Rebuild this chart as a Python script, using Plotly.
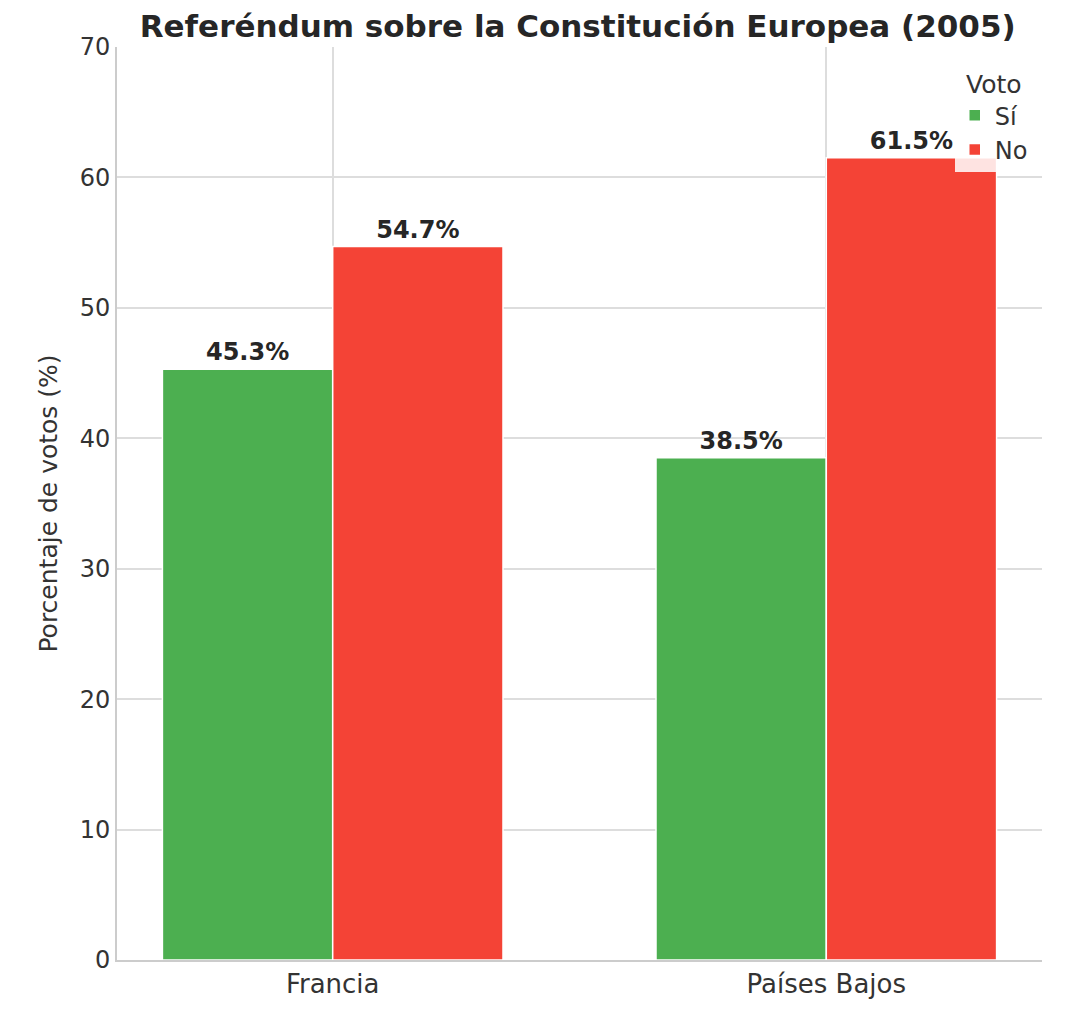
import plotly.graph_objects as go

countries = ["Francia", "Países Bajos"]
si = [45.3, 38.5]
no = [54.7, 61.5]

fig = go.Figure()
for name, vals, col in [("Sí", si, "#4caf50"), ("No", no, "#f44336")]:
    fig.add_trace(go.Bar(x=[0, 1], y=vals, name=name, marker=dict(color=col, line=dict(color="white", width=1.5)),
                         text=[f"<b>{v}%</b>" for v in vals], textposition="outside",
                         textfont=dict(size=24, color="#262626", family="DejaVu Sans"), cliponaxis=False))

fig.update_layout(
    width=1079, height=1031, barmode="group", bargap=0.31, bargroupgap=0,
    plot_bgcolor="white", paper_bgcolor="white",
    font=dict(family="DejaVu Sans", size=24, color="#333"),
    margin=dict(l=109, r=45, t=39, b=79, pad=0),
    title=dict(text="<b>Referéndum sobre la Constitución Europea (2005)</b>", x=0.528, xanchor="center",
               y=0.982, yanchor="middle", font=dict(size=31, color="#262626")),
    xaxis=dict(range=[-0.437, 1.437], tickvals=[0, 1], ticktext=countries, showgrid=True, gridcolor="#dddddd",
               gridwidth=2, showline=True, linecolor="#cccccc", linewidth=2, ticks="", zeroline=False, tickfont=dict(size=26)),
    yaxis=dict(range=[0, 70], dtick=10, showgrid=True, gridcolor="#dddddd", gridwidth=2, showline=True,
               linecolor="#cccccc", linewidth=2, zeroline=False, ticks="", tickfont=dict(size=24),
               title=dict(text="Porcentaje de votos (%)", font=dict(size=25))),
    legend=dict(title=dict(text="Voto", side="top center", font=dict(size=25)), x=0.99, xanchor="right", y=0.985, yanchor="top",
                bgcolor="rgba(255,255,255,0.85)", font=dict(size=24)),
)
fig.write_html("out.html")
